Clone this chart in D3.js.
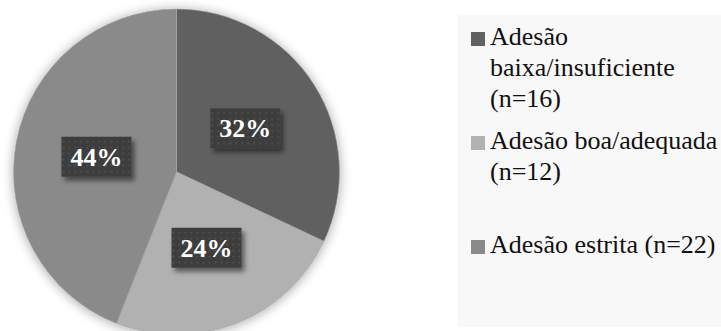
<!DOCTYPE html>
<html>
<head>
<meta charset="utf-8">
<script src="https://cdn.jsdelivr.net/npm/d3@7"></script>
<style>
    body { margin: 0; background: #ffffff; }
    svg { display: block; }
</style>
</head>
<body>
<div id="chart"></div>
<script>

// chart data
let categories = ["Adesão baixa/insuficiente", "Adesão boa/adequada", "Adesão estrita"];
let counts = [16, 12, 22];
let colors = ["#616161", "#b1b1b1", "#8a8a8a"];

let width = 721, height = 331;
let center = {x: 176.5, y: 172};
let radius = 163;
let font = "'Liberation Serif'";

let svg = d3.select("#chart").append("svg")
    .attr("width", width)
    .attr("height", height);

let defs = svg.append("defs");

// soft shadow round the pie
let pieShadow = defs.append("filter")
    .attr("id", "pie-shadow")
    .attr("x", "-20%").attr("y", "-20%")
    .attr("width", "140%").attr("height", "140%");
pieShadow.append("feGaussianBlur").attr("in", "SourceAlpha").attr("stdDeviation", 6).attr("result", "blur");
pieShadow.append("feOffset").attr("in", "blur").attr("dx", 0).attr("dy", 1).attr("result", "off");
pieShadow.append("feComponentTransfer").attr("in", "off").attr("result", "soft")
    .append("feFuncA").attr("type", "linear").attr("slope", 0.35);
let m1 = pieShadow.append("feMerge");
m1.append("feMergeNode").attr("in", "soft");
m1.append("feMergeNode").attr("in", "SourceGraphic");

// shadow under the label boxes
let boxShadow = defs.append("filter")
    .attr("id", "box-shadow")
    .attr("x", "-30%").attr("y", "-30%")
    .attr("width", "160%").attr("height", "180%");
boxShadow.append("feGaussianBlur").attr("in", "SourceAlpha").attr("stdDeviation", 2.5).attr("result", "blur");
boxShadow.append("feOffset").attr("in", "blur").attr("dx", 3).attr("dy", 4).attr("result", "off");
boxShadow.append("feComponentTransfer").attr("in", "off").attr("result", "soft")
    .append("feFuncA").attr("type", "linear").attr("slope", 0.5);
let m2 = boxShadow.append("feMerge");
m2.append("feMergeNode").attr("in", "soft");
m2.append("feMergeNode").attr("in", "SourceGraphic");

// dotted fill of the label boxes
let dots = defs.append("pattern")
    .attr("id", "dots")
    .attr("patternUnits", "userSpaceOnUse")
    .attr("width", 6).attr("height", 6);
dots.append("rect").attr("width", 6).attr("height", 6).attr("fill", "#3e3e3e");
dots.append("rect").attr("x", 2).attr("y", 2).attr("width", 1.5).attr("height", 1.5).attr("fill", "#575757");

// legend background
svg.append("rect")
    .attr("x", 458)
    .attr("y", 15)
    .attr("width", width - 458)
    .attr("height", 312)
    .attr("fill", "#f8f8f8");

// pie
let pie = d3.pie().sort(null).value(d => d);
let arcs = pie(counts);
let total = d3.sum(counts);

let arc = d3.arc().innerRadius(0).outerRadius(radius);

let g = svg.append("g")
    .attr("transform", "translate(" + center.x + "," + center.y + ")");

g.append("g")
    .attr("filter", "url(#pie-shadow)")
    .selectAll("path")
    .data(arcs)
    .enter().append("path")
    .attr("d", arc)
    .attr("fill", (d, i) => colors[i])
    .attr("stroke", "#a8a8a8")
    .attr("stroke-width", 0.6);

// percentage labels
let labels = g.selectAll(".pct")
    .data(arcs)
    .enter().append("g")
    .attr("class", "pct")
    .attr("transform", d => "translate(" + arc.centroid(d) + ")");

labels.append("rect")
    .attr("x", -35)
    .attr("y", -20)
    .attr("width", 70)
    .attr("height", 40)
    .attr("fill", "url(#dots)")
    .attr("filter", "url(#box-shadow)");

labels.append("text")
    .attr("text-anchor", "middle")
    .attr("y", 9)
    .attr("fill", "#ffffff")
    .style("font-family", font)
    .style("font-weight", "bold")
    .style("font-size", "26px")
    .text(d => Math.round(d.data / total * 100) + "%");

// legend
let legend = svg.append("g").attr("transform", "translate(471,0)");
let lineHeight = 31;
let maxWidth = 234;

let items = legend.selectAll(".legend-item")
    .data(categories)
    .enter().append("g")
    .attr("class", "legend-item")
    .attr("transform", (d, i) => "translate(0," + (45 + i * 104) + ")");

items.append("rect")
    .attr("x", 0)
    .attr("y", -13)
    .attr("width", 14)
    .attr("height", 14)
    .attr("fill", (d, i) => colors[i]);

items.append("text")
    .attr("x", 19)
    .attr("y", 0)
    .attr("fill", "#111")
    .style("font-family", font)
    .style("font-size", "26px")
    .each(function (d, i) {
        let text = d3.select(this);
        let words = (d + " (n=" + counts[i] + ")").split(" ");
        let line = [];
        let lineNo = 0;
        let tspan = text.append("tspan").attr("x", 19).attr("y", 0);
        words.forEach(w => {
            line.push(w);
            tspan.text(line.join(" "));
            if (tspan.node().getComputedTextLength() > maxWidth && line.length > 1) {
                line.pop();
                tspan.text(line.join(" "));
                line = [w];
                lineNo++;
                tspan = text.append("tspan")
                    .attr("x", 19)
                    .attr("y", lineNo * lineHeight)
                    .text(w);
            }
        });
    });

</script>
</body>
</html>
